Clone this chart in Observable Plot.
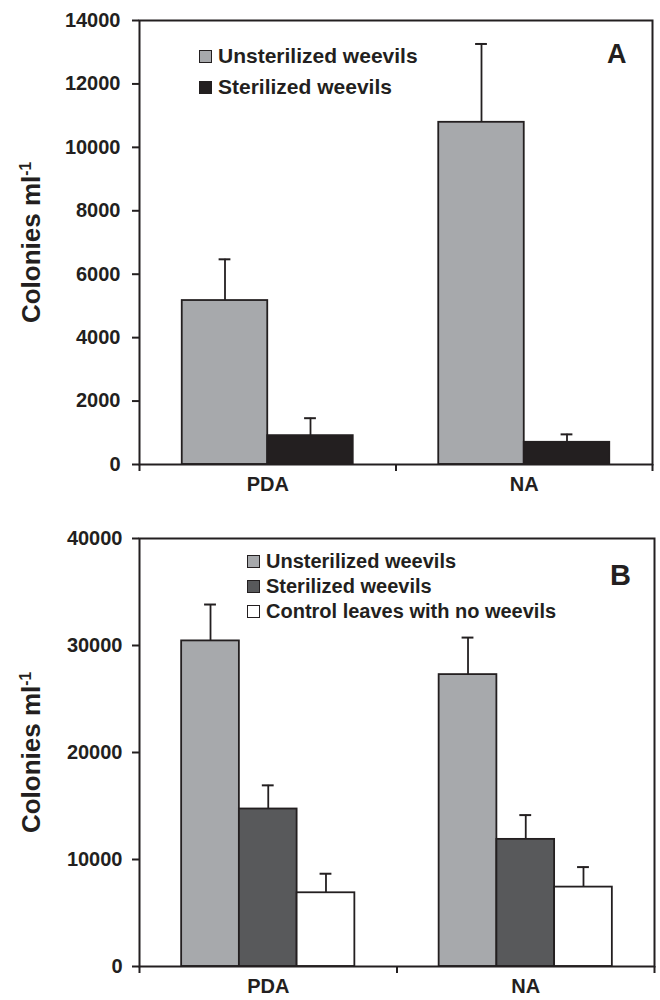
<!DOCTYPE html>
<html>
<head>
<meta charset="utf-8">
<script src="https://cdn.jsdelivr.net/npm/d3@7"></script>
<script src="https://cdn.jsdelivr.net/npm/@observablehq/plot@0.6"></script>
<style>
  html, body { margin: 0; padding: 0; background: #fff; }
  #wrap { position: relative; width: 660px; height: 1000px; font-family: "Liberation Sans", Arial, sans-serif; font-weight: bold; color: #231f20; }
  .panel { position: absolute; left: 0; }
  .legend { position: absolute; }
  .row { position: absolute; left: 0; display: flex; align-items: center; white-space: nowrap; height: 24px; }
  .sw { width: 11px; height: 11px; border: 1.6px solid #231f20; margin-right: 6px; }
  .letter { position: absolute; font-weight: bold; }
</style>
</head>
<body>
<div id="wrap">
  <div id="panelA" class="panel" style="top:0"></div>
  <div id="panelB" class="panel" style="top:500px"></div>
</div>
<script>
// ---------- data ----------
const groups = ["PDA", "NA"];

const seriesA = ["Unsterilized weevils", "Sterilized weevils"];
const meansA  = [[5170, 910], [10790, 700]];      // [group][series]
const upperA  = [[6470, 1460], [13260, 950]];     // top of error bar
const yTicksA = [0, 2000, 4000, 6000, 8000, 10000, 12000, 14000];

const seriesB = ["Unsterilized weevils", "Sterilized weevils", "Control leaves with no weevils"];
const meansB  = [[30430, 14720, 6890], [27280, 11880, 7420]];
const upperB  = [[33830, 16930, 8670], [30740, 14150, 9290]];
const yTicksB = [0, 10000, 20000, 30000, 40000];

const yLabel = "Colonies ml";
const yLabelSup = "-1";

// ---------- styles ----------
const ink = "#231f20";
const coloursA = ["#a7a9ac", "#231f20"];
const coloursB = ["#a7a9ac", "#58595b", "#ffffff"];

function panel({series, means, upper, yTicks, colours, outerPad, marginTop, marginBottom, marginRight, tickPadding}) {
  const n = series.length;
  const step = 1 / (n + 2 * outerPad);
  const cap = 0.023;
  const rows = [];
  groups.forEach((g, gi) => series.forEach((s, si) => {
    const x1 = gi + (outerPad + si) * step;
    rows.push({group: g, series: s, value: means[gi][si], err: upper[gi][si], x1, x2: x1 + step, xc: x1 + step / 2});
  }));
  const plot = Plot.plot({
    width: 660,
    height: 500,
    marginLeft: 139,
    marginRight,
    marginTop,
    marginBottom,
    style: {fontFamily: '"Liberation Sans", Arial, sans-serif', fontWeight: "bold", color: ink, background: "#fff"},
    x: {domain: [0, groups.length], axis: null},
    y: {domain: [0, yTicks[yTicks.length - 1]], axis: null},
    color: {domain: series, range: colours},
    marks: [
      Plot.ruleX(rows, {x: "xc", y1: "value", y2: "err", stroke: ink, strokeWidth: 1.8}),
      Plot.ruleY(rows, {y: "err", x1: d => d.xc - cap, x2: d => d.xc + cap, stroke: ink, strokeWidth: 2}),
      Plot.rectY(rows, {x1: "x1", x2: "x2", y: "value", fill: "series", stroke: ink, strokeWidth: 1.8}),
      Plot.frame({stroke: ink, strokeWidth: 2}),
      Plot.axisY({ticks: yTicks, tickFormat: d => String(d), tickSize: 7, tickPadding, fontSize: 20,
        label: yLabel, labelAnchor: "center", labelOffset: 118, stroke: ink, strokeWidth: 2}),
      Plot.axisX({ticks: d3.range(groups.length + 1), tickFormat: () => "", tickSize: 7, stroke: ink, strokeWidth: 2, label: null}),
      Plot.axisX({ticks: groups.map((g, i) => i + 0.5), tickSize: 0, tickPadding: 12, fontSize: 20,
        tickFormat: v => groups[Math.floor(v)], label: null})
    ]
  });
  // rewrite the axis label with a superscript
  d3.select(plot).selectAll('[aria-label="y-axis label"] text').each(function () {
    const t = d3.select(this);
    t.text(null).attr("font-size", 26);
    t.append("tspan").text(yLabel);
    t.append("tspan").attr("dy", "-0.55em").attr("font-size", "0.6em").text(yLabelSup);
  });
  return plot;
}

function legend(container, series, colours, left, top, gap, fontSize) {
  const box = document.createElement("div");
  box.className = "legend";
  box.style.left = left + "px";
  box.style.top = top + "px";
  series.forEach((s, i) => {
    const r = document.createElement("div");
    r.className = "row";
    r.style.top = (i * gap - 12) + "px";
    r.style.fontSize = fontSize + "px";
    const sw = document.createElement("div");
    sw.className = "sw";
    sw.style.background = colours[i];
    const tx = document.createElement("span");
    tx.textContent = s;
    r.appendChild(sw); r.appendChild(tx);
    box.appendChild(r);
  });
  container.appendChild(box);
}

function letter(container, txt, left, top, size) {
  const d = document.createElement("div");
  d.className = "letter";
  d.textContent = txt;
  d.style.left = left + "px";
  d.style.top = top + "px";
  d.style.fontSize = size + "px";
  d.style.lineHeight = "1";
  container.appendChild(d);
}

const pA = document.getElementById("panelA");
const pB = document.getElementById("panelB");
pA.appendChild(panel({series: seriesA, means: meansA, upper: upperA, yTicks: yTicksA, colours: coloursA,
  outerPad: 0.5, marginTop: 20, marginBottom: 36, marginRight: 8, tickPadding: 12}));
pB.appendChild(panel({series: seriesB, means: meansB, upper: upperB, yTicks: yTicksB, colours: coloursB,
  outerPad: 0.73, marginTop: 38, marginBottom: 34, marginRight: 6, tickPadding: 10}));

const wrap = document.getElementById("wrap");
legend(wrap, seriesA, coloursA, 199, 56, 31, 21);
legend(wrap, seriesB, coloursB, 247, 561, 25, 20);
letter(wrap, "A", 607, 41, 27);
letter(wrap, "B", 610, 561, 29);
</script>
</body>
</html>
